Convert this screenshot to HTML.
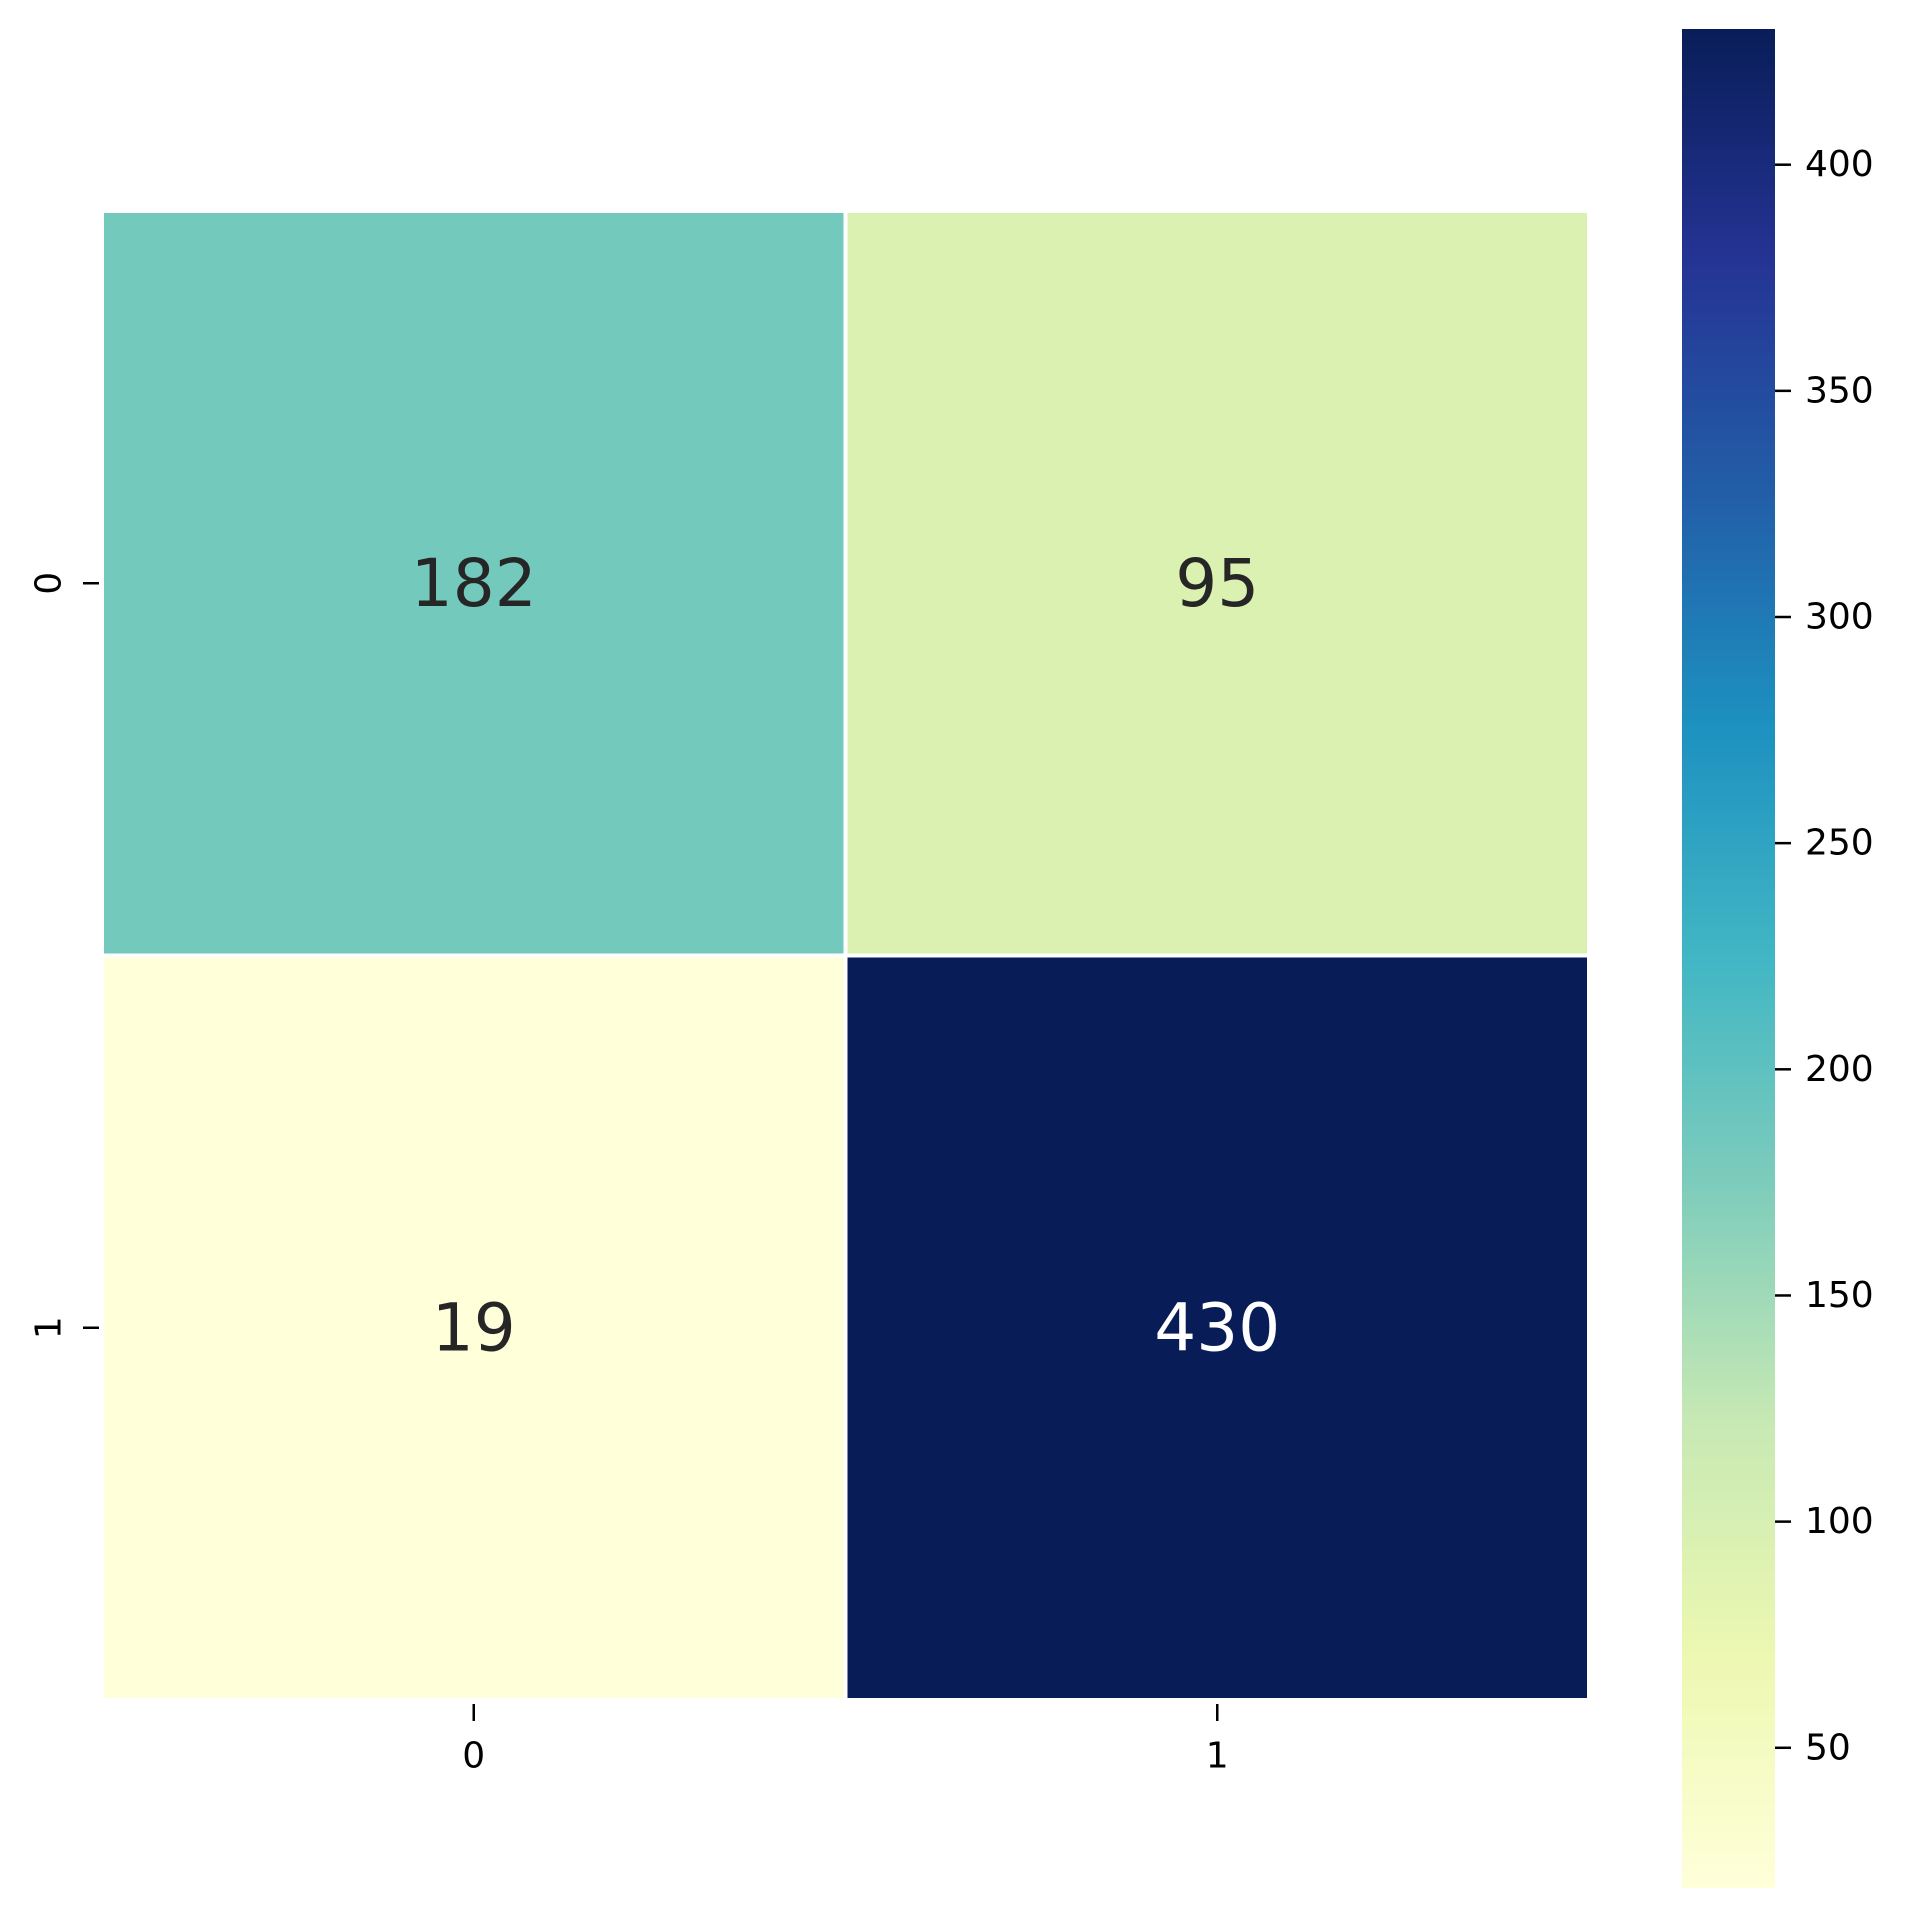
<!DOCTYPE html>
<html><head><meta charset="utf-8"><style>
html,body{margin:0;padding:0;background:#fff}
svg{display:block;font-family:"DejaVu Sans","Liberation Sans",sans-serif}
</style></head><body>
<svg id="chart" width="1913" height="1907" viewBox="0 0 1913 1907" xmlns="http://www.w3.org/2000/svg">
<defs><linearGradient id="cbgrad" x1="0" y1="1" x2="0" y2="0"></linearGradient></defs>
<g id="cells"></g>
<g id="axes"></g>
<g id="cbar"></g>
</svg>
<script>
const rowLabels = ["0","1"];
const colLabels = ["0","1"];
const values = [[182,95],[19,430]];
const cbTicks = [50,100,150,200,250,300,350,400];

const NS="http://www.w3.org/2000/svg";
const stops=["#ffffd9","#edf8b1","#c7e9b4","#7fcdbb","#41b6c4","#1d91c0","#225ea8","#253494","#081d58"];
function hex(h){return [1,3,5].map(i=>parseInt(h.substr(i,2),16));}
function cmap(t){t=Math.max(0,Math.min(1,t));const p=t*8,i=Math.min(7,Math.floor(p)),f=p-i;const a=hex(stops[i]),b=hex(stops[i+1]);return "rgb("+a.map((v,k)=>Math.round(v+(b[k]-v)*f)).join(",")+")";}
const flat=values.flat();const vmin=Math.min(...flat),vmax=Math.max(...flat);
const L=102,T=211,W=1487,H=1489;
const cw=W/colLabels.length,ch=H/rowLabels.length;
const xc=j=>L+cw*(j+0.5), yc=i=>T+ch*(i+0.5);
function mk(tag,attrs,parent){const e=document.createElementNS(NS,tag);for(const k in attrs)e.setAttribute(k,attrs[k]);parent.appendChild(e);return e;}
const cells=document.getElementById('cells');
values.forEach((row,i)=>row.forEach((v,j)=>{
  const t=(v-vmin)/(vmax-vmin);
  const r=mk('rect',{x:L+cw*j,y:T+ch*i,width:cw,height:ch,fill:cmap(t),stroke:"#fff","stroke-width":4},cells);
  
  
  const tx=mk('text',{x:xc(j),y:yc(i),"text-anchor":"middle","dominant-baseline":"central","font-size":66,fill:t>0.5?"#fff":"#262626"},cells);
  tx.textContent=v;
  
  
}));
const axes=document.getElementById('axes');
colLabels.forEach((c,j)=>{
  const l=mk('line',{x1:xc(j),x2:xc(j),y1:T+H+4,y2:T+H+21,stroke:"#000","stroke-width":2.5},axes);
  
  
  const t=mk('text',{x:xc(j),y:T+H+56,"text-anchor":"middle","dominant-baseline":"central","font-size":36,fill:"#000"},axes);
  t.textContent=c;
  
  
});
rowLabels.forEach((r,i)=>{
  const l=mk('line',{x1:L-19,x2:L-3,y1:yc(i),y2:yc(i),stroke:"#000","stroke-width":2.5},axes);
  
  
  const t=mk('text',{x:49,y:yc(i),"text-anchor":"middle","dominant-baseline":"central","font-size":36,fill:"#000",transform:"rotate(-90 49 "+yc(i)+")"},axes);
  t.textContent=r;
  
  
});
const grad=document.getElementById('cbgrad');
for(let k=0;k<=40;k++){mk('stop',{offset:k/40,"stop-color":cmap(k/40)},grad);}
const cb=document.getElementById('cbar');
const CL=1682,CR=1775,CT=29,CB=1888;
const cy=v=>CB-(v-vmin)/(vmax-vmin)*(CB-CT);
const bar=mk('rect',{x:CL,y:CT,width:CR-CL,height:CB-CT,fill:"url(#cbgrad)"},cb);


cbTicks.forEach(v=>{
  const l=mk('line',{x1:CR,x2:CR+16,y1:cy(v),y2:cy(v),stroke:"#000","stroke-width":2.5},cb);
  
  
  const t=mk('text',{x:CR+30,y:cy(v),"dominant-baseline":"central","font-size":36,fill:"#000"},cb);
  t.textContent=v;
  
  
});
</script>
</body></html>
